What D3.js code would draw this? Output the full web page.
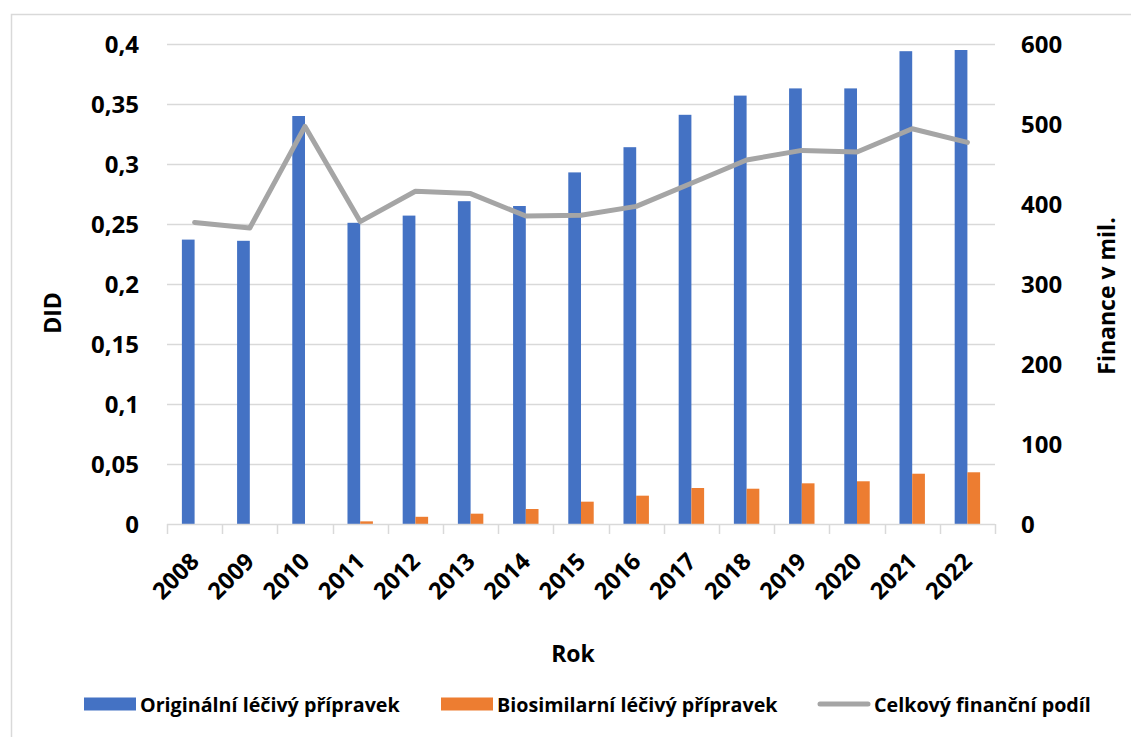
<!DOCTYPE html>
<html lang="cs">
<head>
    <meta charset="UTF-8">
    <title>DID a finance</title>
    <script src="https://cdn.jsdelivr.net/npm/d3@7"></script>
    <style>
        body {
            margin: 0;
            background: #fff;
            font-family: "Open Sans", sans-serif;
        }
        svg text {
            font-weight: bold;
            fill: #000;
        }
    </style>
</head>
<body>
    <div id="chart"></div>

    <script>
        // values
        const years = ["2008", "2009", "2010", "2011", "2012", "2013", "2014", "2015",
                       "2016", "2017", "2018", "2019", "2020", "2021", "2022"];
        const original = [0.237, 0.236, 0.340, 0.251, 0.257, 0.269, 0.265, 0.293,
                          0.314, 0.341, 0.357, 0.363, 0.363, 0.394, 0.395];
        const biosimilar = [0, 0, 0, 0.0022, 0.006, 0.0086, 0.0125, 0.0186,
                            0.0236, 0.030, 0.0294, 0.0339, 0.0356, 0.0419, 0.0431];
        const finance = [377, 370, 497, 378, 416, 413, 385, 386,
                         397, 426, 455, 467, 465, 494, 477];
        const leftTicks = [0, 0.05, 0.1, 0.15, 0.2, 0.25, 0.3, 0.35, 0.4];
        const rightTicks = [0, 100, 200, 300, 400, 500, 600];
        const seriesNames = ["Originální léčivý přípravek", "Biosimilarní léčivý přípravek", "Celkový finanční podíl"];

        const width = 1131;
        const height = 737;
        const plot = { left: 167, right: 995, top: 44, bottom: 524 };
        const colors = { orig: "#4472C4", bio: "#ED7D31", line: "#A5A5A5", grid: "#D9D9D9" };

        const svg = d3.select("#chart")
            .append("svg")
            .attr("width", width)
            .attr("height", height);

        // chart frame
        svg.append("rect")
            .attr("x", 11.5).attr("y", 14.5)
            .attr("width", width + 10).attr("height", height + 10)
            .attr("fill", "none")
            .attr("stroke", colors.grid)
            .attr("stroke-width", 1.5);

        const x = d3.scaleBand().domain(years).range([plot.left, plot.right]);
        const inner = d3.scaleBand().domain(["orig", "bio"])
            .range([0, x.bandwidth()])
            .paddingInner(0)
            .paddingOuter(1.17);
        const yL = d3.scaleLinear().domain([0, 0.4]).range([plot.bottom, plot.top]);
        const yR = d3.scaleLinear().domain([0, 600]).range([plot.bottom, plot.top]);

        // gridlines
        svg.append("g")
            .selectAll("line")
            .data(leftTicks.slice(1))
            .enter()
            .append("line")
            .attr("x1", plot.left).attr("x2", plot.right)
            .attr("y1", d => Math.round(yL(d)) + 0.5)
            .attr("y2", d => Math.round(yL(d)) + 0.5)
            .attr("stroke", colors.grid)
            .attr("stroke-width", 1.5);

        // bars
        const groups = svg.append("g")
            .selectAll("g")
            .data(years)
            .enter()
            .append("g")
            .attr("transform", d => `translate(${x(d)},0)`);

        groups.append("rect")
            .attr("x", inner("orig"))
            .attr("width", inner.bandwidth())
            .attr("y", (d, i) => yL(original[i]))
            .attr("height", (d, i) => yL(0) - yL(original[i]))
            .attr("fill", colors.orig);

        groups.append("rect")
            .attr("x", inner("bio"))
            .attr("width", inner.bandwidth())
            .attr("y", (d, i) => yL(biosimilar[i]))
            .attr("height", (d, i) => yL(0) - yL(biosimilar[i]))
            .attr("fill", colors.bio);

        // x axis baseline + ticks between categories
        const xAxis = svg.append("g");
        xAxis.append("line")
            .attr("x1", plot.left).attr("x2", plot.right)
            .attr("y1", plot.bottom + 0.5).attr("y2", plot.bottom + 0.5)
            .attr("stroke", colors.grid)
            .attr("stroke-width", 1.5);
        xAxis.selectAll(".tick")
            .data(years.map(d => x(d)).concat([plot.right]))
            .enter()
            .append("line")
            .attr("x1", d => Math.round(d) + 0.5)
            .attr("x2", d => Math.round(d) + 0.5)
            .attr("y1", plot.bottom)
            .attr("y2", plot.bottom + 10)
            .attr("stroke", colors.grid)
            .attr("stroke-width", 1.5);

        xAxis.selectAll("text")
            .data(years)
            .enter()
            .append("text")
            .attr("transform", d => `translate(${x(d) + x.bandwidth() / 2 + 6},${563}) rotate(-45)`)
            .attr("text-anchor", "end")
            .style("font-size", "23.5px")
            .text(d => d);

        // total finance line
        const line = d3.line()
            .x((d, i) => x(years[i]) + x.bandwidth() / 2)
            .y(d => yR(d));

        svg.append("path")
            .datum(finance)
            .attr("d", line)
            .attr("fill", "none")
            .attr("stroke", colors.line)
            .attr("stroke-width", 5)
            .attr("stroke-linejoin", "round")
            .attr("stroke-linecap", "round");

        // y axes labels
        svg.append("g")
            .selectAll("text")
            .data(leftTicks)
            .enter()
            .append("text")
            .attr("x", 139)
            .attr("y", d => yL(d) + 8.5)
            .attr("text-anchor", "end")
            .style("font-size", "24px")
            .text(d => String(d).replace(".", ","));

        svg.append("g")
            .selectAll("text")
            .data(rightTicks)
            .enter()
            .append("text")
            .attr("x", 1021)
            .attr("y", d => yR(d) + 8.5)
            .attr("text-anchor", "start")
            .style("font-size", "24px")
            .text(d => d);

        // axis titles
        svg.append("text")
            .attr("transform", "translate(61,313) rotate(-90)")
            .attr("text-anchor", "middle")
            .style("font-size", "23px")
            .text("DID");

        svg.append("text")
            .attr("transform", "translate(1115,296) rotate(-90)")
            .attr("text-anchor", "middle")
            .style("font-size", "23px")
            .text("Finance v mil.");

        svg.append("text")
            .attr("x", 573)
            .attr("y", 662)
            .attr("text-anchor", "middle")
            .style("font-size", "23px")
            .text("Rok");

        // legend
        const legendX = [84, 441, 818];
        const legend = svg.append("g")
            .selectAll("g")
            .data(seriesNames)
            .enter()
            .append("g")
            .attr("transform", (d, i) => `translate(${legendX[i]},704)`);

        legend.filter((d, i) => i < 2)
            .append("rect")
            .attr("x", 0).attr("y", -6.5)
            .attr("width", 52).attr("height", 13)
            .attr("fill", (d, i) => i === 0 ? colors.orig : colors.bio);

        legend.filter((d, i) => i === 2)
            .append("line")
            .attr("x1", 2).attr("x2", 50)
            .attr("y1", 0).attr("y2", 0)
            .attr("stroke", colors.line)
            .attr("stroke-width", 5)
            .attr("stroke-linecap", "round");

        legend.append("text")
            .attr("x", 56)
            .attr("y", 7.5)
            .style("font-size", "19.7px")
            .text(d => d);
    </script>
</body>
</html>
